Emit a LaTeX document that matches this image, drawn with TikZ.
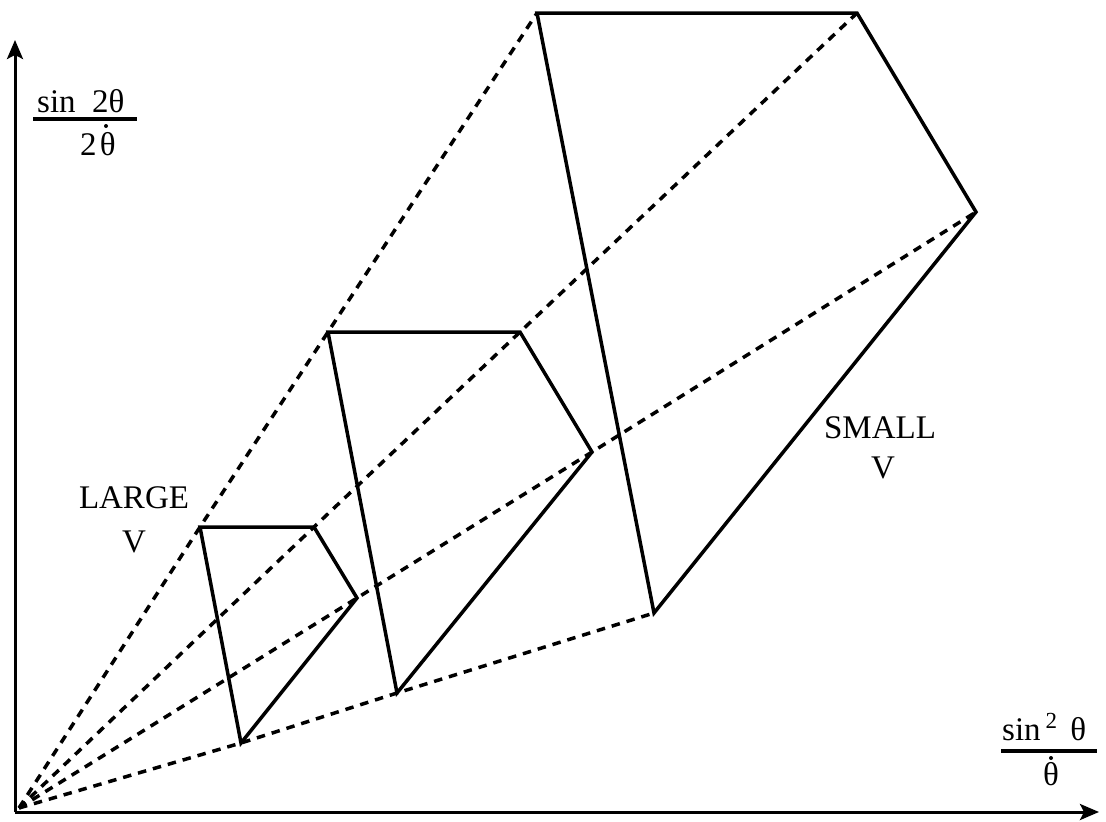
\documentclass[tikz,border=0pt]{standalone}
\usepackage{fontspec}
\setmainfont{Liberation Serif}
\usetikzlibrary{arrows.meta}
\begin{document}
\begin{tikzpicture}[x=1pt,y=-1pt,
  quad/.style={line width=3.5pt,line join=miter},
  ray/.style={line width=3.5pt,dash pattern=on 8.5pt off 7pt},
  axis/.style={line width=3pt,-{Stealth[length=19pt,width=16pt,inset=4pt]}},
  bigtxt/.style={font=\fontsize{33}{40}\selectfont,anchor=base,inner sep=0pt},
  bar/.style={line width=3.2pt}]
\useasboundingbox (0,0) rectangle (1106,822);
\fill[white] (0,0) rectangle (1106,822);
% axes
\coordinate (ax0) at (15,812);
\coordinate (axy) at (15,40);
\coordinate (axx) at (1099,812);
\draw[axis] (ax0) -- (axy);
\draw[axis] (ax0) -- (axx);
% corners
\coordinate (O) at (19,808);
\coordinate (s1) at (200,527); \coordinate (s2) at (314,527);
\coordinate (s3) at (357,598); \coordinate (s4) at (241,743);
\coordinate (m1) at (328,332); \coordinate (m2) at (520,332);
\coordinate (m3) at (592,452); \coordinate (m4) at (397,693);
\coordinate (l1) at (537,13);  \coordinate (l2) at (857,13);
\coordinate (l3) at (976,212); \coordinate (l4) at (654,613);
% rays
\draw[ray] (O) -- (s1) -- (m1) -- (l1);
\draw[ray] (O) -- (s2) -- (m2) -- (l2);
\draw[ray] (O) -- (s3) -- (m3) -- (l3);
\draw[ray] (O) -- (s4) -- (m4) -- (l4);
% quads
\draw[quad] (s1) -- (s2) -- (s3) -- (s4) -- cycle;
\draw[quad] (m1) -- (m2) -- (m3) -- (m4) -- cycle;
\draw[quad] (l1) -- (l2) -- (l3) -- (l4) -- cycle;
% labels
\node[bigtxt] (large) at (134,508) {LARGE};
\node[bigtxt] (largev) at (134,552) {V};
\node[bigtxt] (small) at (880,438) {SMALL};
\node[bigtxt] (smallv) at (883,478) {V};
% y label
\node[bigtxt,anchor=base west] (ynum) at (37,112) {sin\hspace{0.5em}2θ};
\coordinate (yb1) at (33,119); \coordinate (yb2) at (137,119);
\draw[bar] (yb1) -- (yb2);
\node[bigtxt,anchor=base east] (yden) at (116,155) {2\hspace{0.1em}θ};
\fill (106,126) circle (2pt);
% x label
\node[bigtxt,anchor=base west] (xnum) at (1002,740) {sin\hspace{0.15em}{\fontsize{23}{23}\selectfont\raisebox{12pt}{2}}\hspace{0.4em}θ};
\coordinate (xb1) at (1001,751); \coordinate (xb2) at (1097,751);
\draw[bar] (xb1) -- (xb2);
\node[bigtxt] (xden) at (1051,785) {θ};
\fill (1051,758) circle (2pt);
\end{tikzpicture}
\end{document}
